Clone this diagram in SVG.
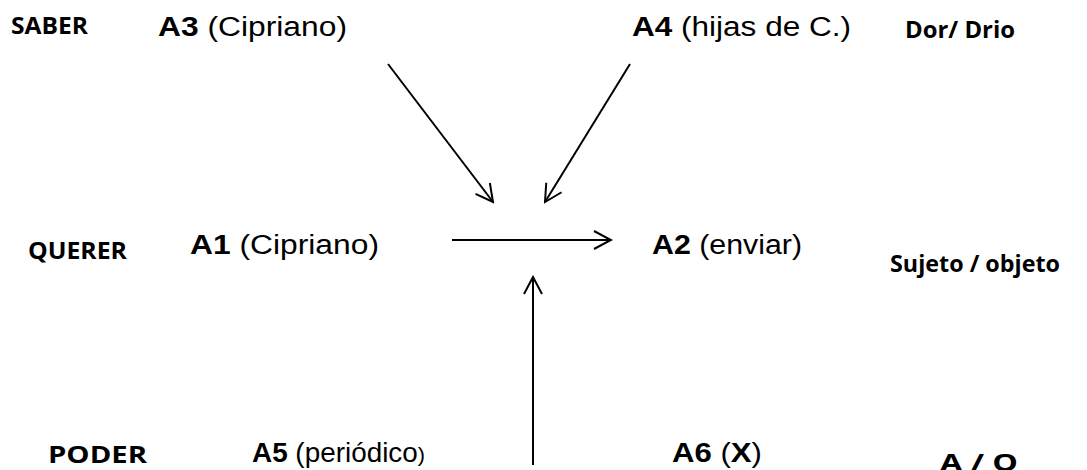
<svg xmlns="http://www.w3.org/2000/svg" width="1087" height="470" viewBox="0 0 1087 470">
  <style>
    .lbl { font-family: "Open Sans", "Liberation Sans", sans-serif; font-weight: bold; font-size: 23px; fill: #000; }
    .act { font-family: "Liberation Sans", Arial, sans-serif; font-size: 27px; fill: #000; }
    .b { font-weight: bold; }
    .conn { stroke: #000; stroke-width: 2; fill: none; marker-end: url(#open); }
  </style>
  <defs>
    <marker id="open" viewBox="0 0 20 20" refX="18" refY="10" markerWidth="20" markerHeight="20" markerUnits="userSpaceOnUse" orient="auto">
      <path d="M1,1 L18,10 L1,19" fill="none" stroke="#000" stroke-width="2"/>
    </marker>
  </defs>
  <rect width="1087" height="470" fill="#fff"/>

  <g id="label-saber"><text class="lbl" x="11" y="34" textLength="77" lengthAdjust="spacingAndGlyphs">SABER</text></g>
  <g id="node-a3"><text class="act" x="158" y="36" textLength="189" lengthAdjust="spacingAndGlyphs"><tspan class="b">A3</tspan> (Cipriano)</text></g>
  <g id="node-a4"><text class="act" x="632" y="36" textLength="219" lengthAdjust="spacingAndGlyphs"><tspan class="b">A4</tspan> (hijas de C.)</text></g>
  <g id="label-dor"><text class="lbl" x="905" y="38" font-size="21" textLength="110" lengthAdjust="spacingAndGlyphs">Dor/ Drio</text></g>

  <g id="label-querer"><text class="lbl" x="28" y="259" textLength="99" lengthAdjust="spacingAndGlyphs">QUERER</text></g>
  <g id="node-a1"><text class="act" x="190" y="254" textLength="189" lengthAdjust="spacingAndGlyphs"><tspan class="b">A1</tspan>  (Cipriano)</text></g>
  <g id="node-a2"><text class="act" x="652" y="254" textLength="150" lengthAdjust="spacingAndGlyphs"><tspan class="b">A2</tspan> (enviar)</text></g>
  <g id="label-sujeto"><text class="lbl" x="890" y="272" textLength="170" lengthAdjust="spacingAndGlyphs">Sujeto / objeto</text></g>

  <g id="label-poder"><text class="lbl" x="48" y="463" textLength="99" lengthAdjust="spacingAndGlyphs">PODER</text></g>
  <g id="node-a5"><text class="act" x="252" y="462" textLength="173" lengthAdjust="spacingAndGlyphs"><tspan class="b">A5</tspan> (periódico<tspan font-size="21">)</tspan></text></g>
  <g id="node-a6"><text class="act" x="672" y="462" textLength="90" lengthAdjust="spacingAndGlyphs"><tspan class="b">A6</tspan> (<tspan class="b">X</tspan>)</text></g>
  <g id="label-ao"><text class="lbl" x="940" y="471" textLength="78" lengthAdjust="spacingAndGlyphs">A / O</text></g>

  <g id="connectors">
    <line class="conn" x1="388" y1="64" x2="493" y2="202"/>
    <line class="conn" x1="630" y1="64" x2="545" y2="202"/>
    <line class="conn" x1="452" y1="240" x2="611" y2="240"/>
    <line class="conn" x1="533" y1="465" x2="533" y2="277"/>
  </g>
</svg>
